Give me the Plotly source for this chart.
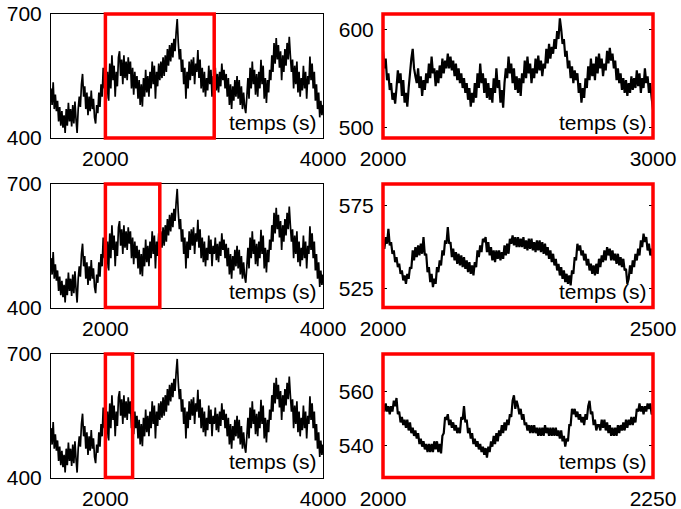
import numpy as np
import plotly.graph_objects as go

# ---------------- data ----------------
# Full record, 1500..4000 s every 10 s
full_t0, full_dt = 1500, 10
full_values = [
    520, 480, 535, 470, 505, 465, 490, 440, 475, 430,
    465, 425, 455, 412, 470, 430, 485, 440, 470, 428,
    480, 435, 488, 445, 412, 470, 500, 475, 530, 555,
    500, 525, 470, 510, 455, 500, 465, 515, 470, 495,
    450, 435, 480, 460, 510, 475, 530, 500, 570, 520,
    545, 495, 560, 490, 580, 520, 600, 540, 575, 500,
    560, 525, 595, 610, 550, 590, 530, 600, 545, 585,
    540, 595, 555, 585, 520, 570, 505, 560, 520, 550,
    495, 540, 480, 530, 476, 545, 500, 565, 510, 550,
    500, 560, 520, 585, 530, 575, 495, 560, 525, 580,
    540, 585, 545, 595, 550, 600, 560, 615, 575, 625,
    585, 630, 595, 640, 610, 655, 688, 630, 590, 615,
    560, 590, 530, 570, 495, 560, 520, 585, 540, 590,
    550, 595, 530, 580, 560, 613, 545, 590, 520, 570,
    510, 560, 500, 545, 515, 575, 530, 565, 500, 550,
    530, 570, 515, 555, 510, 560, 525, 580, 540, 565,
    520, 555, 500, 545, 480, 530, 470, 525, 490, 540,
    500, 550, 495, 540, 480, 525, 470, 510, 475, 460,
    500, 545, 495, 570, 520, 585, 530, 565, 505, 555,
    500, 560, 520, 589, 530, 575, 495, 545, 485, 540,
    510, 565, 540, 600, 560, 630, 580, 642, 590, 625,
    570, 610, 540, 600, 560, 615, 575, 630, 590, 645,
    600, 560, 590, 520, 575, 530, 585, 510, 560, 500,
    545, 515, 575, 520, 560, 495, 550, 530, 597, 540,
    580, 520, 560, 490, 530, 470, 510, 450, 490, 455, 480,
]

# Zoom 2000..3000 s every 5 s
z1_t0, z1_dt = 2000, 5
z1_values = [
    578, 560, 570, 548, 555, 538, 545, 528, 535, 524, 540, 558, 545, 555, 532, 548, 525, 535, 521, 540,
    555, 570, 580, 560, 552, 545, 560, 540, 552, 532, 548, 538, 555, 545, 565, 550, 572, 555, 560, 542,
    558, 545, 563, 550, 570, 555, 568, 560, 575, 560, 572, 558, 568, 552, 565, 548, 560, 545, 555, 540,
    550, 535, 545, 528, 540, 521, 535, 525, 545, 530, 555, 540, 565, 545, 555, 535, 550, 530, 545, 528,
    540, 525, 550, 535, 560, 540, 548, 525, 538, 520, 545, 560, 550, 572, 555, 565, 545, 560, 538, 552,
    535, 550, 532, 555, 545, 568, 550, 572, 555, 565, 545, 560, 550, 570, 555, 573, 558, 568, 552, 565,
    560, 580, 565, 585, 570, 582, 575, 590, 580, 598, 590, 611, 600, 585, 590, 572, 578, 560, 568, 550,
    562, 545, 558, 548, 555, 535, 545, 525, 540, 530, 550, 540, 562, 548, 570, 552, 565, 548, 572, 555,
    575, 560, 570, 552, 565, 558, 578, 565, 581, 568, 575, 560, 568, 548, 560, 545, 555, 538, 550, 535,
    548, 532, 545, 535, 552, 538, 550, 540, 558, 542, 555, 535, 550, 540, 560, 545, 552, 535, 545, 530, 518,
]

# Zoom 2000..2500 s every 2.5 s
z2_t0, z2_dt = 2000, 2.5
z2_values = [
    555, 549, 556, 552, 561, 551, 553, 546, 548, 541, 544, 538, 540, 534, 536, 530, 533, 528, 534, 531,
    538, 537, 548, 542, 550, 544, 551, 545, 552, 546, 556, 545, 546, 535, 538, 529, 534, 526, 531, 528,
    538, 535, 542, 539, 548, 545, 554, 552, 562, 552, 553, 544, 549, 542, 547, 540, 546, 539, 545, 538,
    544, 537, 542, 535, 541, 534, 539, 533, 541, 538, 548, 544, 551, 547, 555, 553, 556, 547, 553, 545,
    550, 542, 548, 541, 548, 543, 548, 542, 547, 543, 551, 545, 552, 546, 555, 552, 557, 551, 556, 550,
    556, 550, 555, 550, 556, 549, 554, 548, 555, 549, 555, 548, 553, 547, 554, 548, 554, 547, 553, 546,
    552, 545, 550, 543, 548, 541, 546, 539, 543, 536, 540, 533, 538, 531, 536, 529, 534, 528, 533, 527,
    536, 534, 544, 542, 552, 548, 551, 545, 548, 542, 546, 539, 543, 536, 540, 534, 539, 533, 540, 534,
    543, 538, 545, 541, 548, 542, 550, 545, 549, 542, 548, 542, 546, 540, 546, 539, 544, 538, 543, 536,
    537, 528, 531, 539, 534, 542, 538, 546, 542, 549, 545, 554, 550, 558, 553, 556, 548, 552, 545, 549, 543,
]

# Zoom 2000..2250 s every 1.25 s
z3_t0, z3_dt = 2000, 1.25
z3_values = [
    555.5, 552.5, 555.5, 552.5, 554.5, 551.5, 554.5, 552.5, 556.5, 554.5, 557.5, 551.5, 552.5, 548.5, 550.5, 547.5, 549.5, 546.5, 549.5, 545.5,
    548.5, 544.5, 546.5, 543.5, 545.5, 542.5, 544.5, 540.5, 542.5, 539.5, 541.5, 538.5, 540.5, 537.5, 540.5, 537.5, 540.5, 537.5, 541.5, 538.5,
    541.5, 537.5, 540.5, 537, 543.5, 544.5, 550.5, 549.5, 551.5, 547.5, 549.5, 546.5, 548.5, 545.5, 547.5, 544.5, 546.5, 544.5, 550.5, 549.5,
    554.5, 548.5, 549.5, 544.5, 546.5, 542.5, 544.5, 540.5, 542.5, 539.5, 541.5, 538.5, 540.5, 537.5, 539.5, 536.5, 539, 535.5, 539.5, 537.5,
    541.5, 539.5, 543.5, 540.5, 544.5, 541.5, 545.5, 543.5, 547.5, 544.5, 548.5, 545.5, 549.5, 547.5, 551.5, 550.5, 556.5, 558.5, 553.5, 556.5,
    554.5, 551.5, 553.5, 549.5, 551.5, 547.5, 548.5, 545.5, 547.5, 544.5, 547.5, 544.5, 547.5, 544.5, 546.5, 543.5, 546.5, 543.5, 546.5, 543.5,
    547.5, 544.5, 546.5, 543.5, 546.5, 543.5, 546.5, 543.5, 546.5, 543.5, 545.5, 542.5, 545.5, 541.5, 543.5, 539.5, 542.5, 541.5, 547.5, 547.5,
    553.5, 551.5, 553.5, 550.5, 552.5, 549.5, 551.5, 548.5, 550.5, 547.5, 551.5, 549.5, 554.5, 556.5, 551.5, 552.5, 547.5, 549.5, 545.5, 547.5,
    547.5, 545.5, 549.5, 546.5, 549.5, 545.5, 548.5, 544.5, 547.5, 543.5, 546.5, 543.5, 546.5, 543.5, 547.5, 544.5, 547.5, 545.5, 548.5, 545.5,
    549.5, 546.5, 549.5, 547.5, 550.5, 547.5, 550.5, 548.5, 553.5, 552.5, 555.5, 552.5, 554.5, 551.5, 554.5, 552.5, 555.5, 553.5, 555.5, 551.5, 552,
]

left_xrange = [1500, 4000]
left_yrange = [400, 700]
left_xticks = [2000, 4000]
left_yticks = [400, 700]
zoom_windows = [[2000, 3000], [2000, 2500], [2000, 2250]]
right_yranges = [[489, 615.5], [513.8, 587.8], [528.1, 573.8]]
right_yticks = [[500, 600], [525, 575], [540, 560]]
xlabel = "temps (s)"

full_t = full_t0 + full_dt * np.arange(len(full_values))
zooms = [
    (z1_t0 + z1_dt * np.arange(len(z1_values)), z1_values),
    (z2_t0 + z2_dt * np.arange(len(z2_values)), z2_values),
    (z3_t0 + z3_dt * np.arange(len(z3_values)), z3_values),
]

# ---------------- layout ----------------
W, H = 681, 509
FONT = "Liberation Sans, Arial, sans-serif"
left_dom = [51 / W, 323 / W]
right_dom = [383 / W, 653 / W]
row_doms = [
    [1 - 138 / H, 1 - 14 / H],
    [1 - 307.5 / H, 1 - 184 / H],
    [1 - 477.5 / H, 1 - 354 / H],
]

fig = go.Figure()
layout = dict(
    template="none",
    width=W, height=H, autosize=False,
    margin=dict(l=0, r=0, t=0, b=0, pad=0, autoexpand=False),
    paper_bgcolor="white", plot_bgcolor="white",
    showlegend=False,
    font=dict(family=FONT, size=21, color="black"),
)
shapes = []
annotations = []

axis_common = dict(
    showgrid=False, zeroline=False, showline=True, linecolor="black", linewidth=1,
    mirror="ticks", ticks="inside", ticklen=4, tickcolor="black", automargin=False,
    tickfont=dict(family=FONT, size=21, color="black"),
)

for r in range(3):
    li = 2 * r + 1
    ri = 2 * r + 2
    lx = "x" if li == 1 else f"x{li}"
    ly = "y" if li == 1 else f"y{li}"
    rx = f"x{ri}"
    ry = f"y{ri}"
    # left full panel
    fig.add_trace(go.Scatter(x=full_t, y=full_values, mode="lines",
                             line=dict(color="black", width=1.7, simplify=False),
                             xaxis=lx, yaxis=ly, hoverinfo="skip"))
    layout["xaxis" if li == 1 else f"xaxis{li}"] = dict(
        axis_common, domain=left_dom, anchor=ly, range=left_xrange,
        tickvals=left_xticks, ticklabelstandoff=2)
    layout["yaxis" if li == 1 else f"yaxis{li}"] = dict(
        axis_common, domain=row_doms[r], anchor=lx, range=left_yrange,
        tickvals=left_yticks, ticklabelstandoff=4)
    w0, w1 = zoom_windows[r]
    shapes.append(dict(type="rect", xref=lx, yref=f"{ly} domain", x0=w0, x1=w1,
                       y0=0, y1=1, line=dict(color="#ff0000", width=3.5),
                       layer="above"))
    annotations.append(dict(text=xlabel, xref=f"{lx} domain", yref=f"{ly} domain",
                            x=1, y=0, xanchor="right", yanchor="bottom",
                            xshift=-4, yshift=2, showarrow=False,
                            font=dict(family=FONT, size=21, color="black")))
    # right zoom panel
    zt, zv = zooms[r]
    fig.add_trace(go.Scatter(x=zt, y=zv, mode="lines",
                             line=dict(color="black", width=2.2, simplify=False),
                             xaxis=rx, yaxis=ry, hoverinfo="skip"))
    layout[f"xaxis{ri}"] = dict(
        axis_common, domain=right_dom, anchor=ry, range=zoom_windows[r],
        tickvals=zoom_windows[r], ticklabelstandoff=2)
    layout[f"yaxis{ri}"] = dict(
        axis_common, domain=row_doms[r], anchor=rx, range=right_yranges[r],
        tickvals=right_yticks[r], ticklabelstandoff=4)
    shapes.append(dict(type="rect", xref=f"{rx} domain", yref=f"{ry} domain",
                       x0=0, x1=1, y0=0, y1=1,
                       line=dict(color="#ff0000", width=3.5), layer="above"))
    annotations.append(dict(text=xlabel, xref=f"{rx} domain", yref=f"{ry} domain",
                            x=1, y=0, xanchor="right", yanchor="bottom",
                            xshift=-4, yshift=2, showarrow=False,
                            font=dict(family=FONT, size=21, color="black")))

layout["shapes"] = shapes
layout["annotations"] = annotations
fig.update_layout(**layout)
fig.write_html(
    "out.html",
    config={"displayModeBar": False},
    post_script="document.body.style.margin='0px';document.body.style.padding='0px';",
)
